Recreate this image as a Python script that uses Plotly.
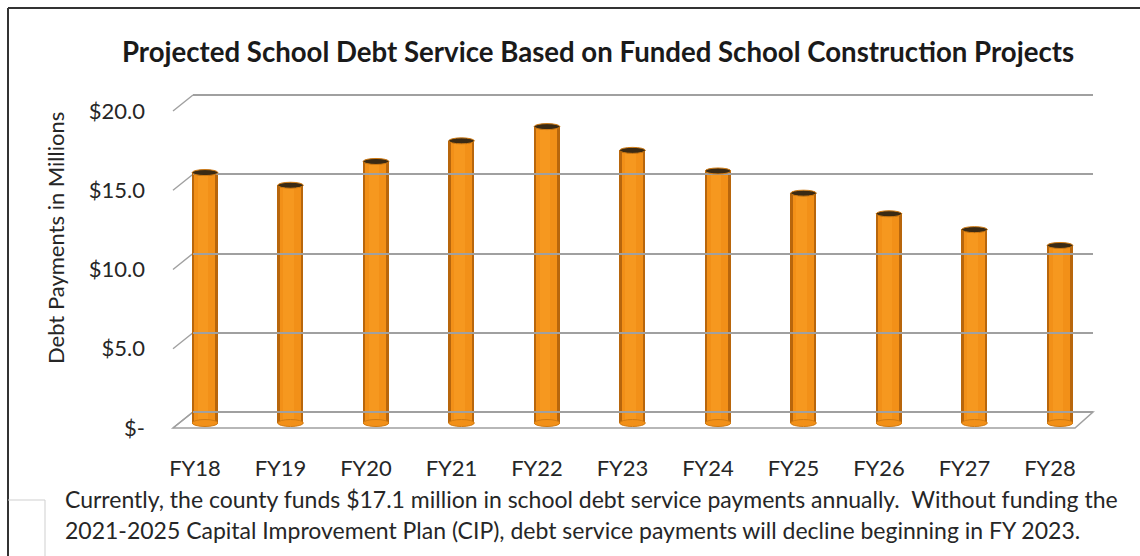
import plotly.graph_objects as go

# ---------------- data ----------------
categories = ["FY18", "FY19", "FY20", "FY21", "FY22", "FY23", "FY24", "FY25", "FY26", "FY27", "FY28"]
debt_millions = [15.8, 15.0, 16.5, 17.8, 18.7, 17.2, 15.9, 14.5, 13.2, 12.2, 11.2]
tick_values = [0, 5, 10, 15, 20]
tick_labels = ["$-", "$5.0", "$10.0", "$15.0", "$20.0"]
title_text = "Projected School Debt Service Based on Funded School Construction Projects"
y_title = "Debt Payments in Millions"
note_lines = [
    "Currently, the county funds $17.1 million in school debt service payments annually.  Without funding the",
    "2021-2025 Capital Improvement Plan (CIP), debt service payments will decline beginning in FY 2023.",
]

# ---------------- geometry (pixels) ----------------
W, H = 1140, 556
FONT = "Lato"
TXT = "#262626"
GRID = "#a0a0a0"
PPU = 15.85            # pixels per million
Y_LO, Y_HI = -1.0, 22.0

def px(x):
    return x / W

def py(y):
    return (H - y) / H

def ydomain(base_px):
    return [py(base_px - Y_LO * PPU), py(base_px - Y_HI * PPU)]

n = len(categories)
idx = list(range(n))
step = 85.5
first_center = 205
bar_left = first_center - step / 2
bar_right = bar_left + step * n
bar_base = 423          # mid-depth floor
back_base = 412         # back wall floor
front_base = 428        # front floor edge
back_left, back_right = 193, 1093
front_left, front_right = 173, 1075

fig = go.Figure()

# cylinder-like bars built from overlaid bars of decreasing width
fig.add_trace(go.Bar(x=idx, y=debt_millions, width=0.30, marker=dict(color="#b8660c", line=dict(width=0)),
                     hoverinfo="skip", showlegend=False))
fig.add_trace(go.Bar(x=idx, y=debt_millions, width=0.25, marker=dict(color="#f29018", line=dict(width=0)),
                     hoverinfo="skip", showlegend=False))
fig.add_trace(go.Bar(x=idx, y=debt_millions, width=0.12, offset=-0.08,
                     marker=dict(color="#f6981f", line=dict(width=0)),
                     hoverinfo="skip", showlegend=False))

# invisible traces to keep the helper axes alive
fig.add_trace(go.Scatter(x=[0], y=[0], xaxis="x2", yaxis="y2", mode="markers",
                         marker=dict(opacity=0), hoverinfo="skip", showlegend=False))
fig.add_trace(go.Scatter(x=[0], y=[0], xaxis="x2", yaxis="y3", mode="markers",
                         marker=dict(opacity=0), hoverinfo="skip", showlegend=False))

shapes = []
# floor outline
shapes.append(dict(type="path", xref="paper", yref="paper",
                   path=(f"M {px(back_left)} {py(back_base)} L {px(back_right)} {py(back_base)} "
                         f"L {px(front_right)} {py(front_base)} L {px(front_left)} {py(front_base)} Z"),
                   line=dict(color=GRID, width=1.5), fillcolor="rgba(0,0,0,0)", layer="below"))
# diagonal tick connectors from front labels to back wall gridlines
for v in tick_values:
    shapes.append(dict(type="line", xref="paper", x0=px(front_left), x1=px(back_left),
                       yref="y3", ysizemode="pixel", yanchor=v, y0=0, y1=front_base - back_base,
                       line=dict(color=GRID, width=1.5), layer="below"))
# bar bottoms and caps
for i, v in zip(idx, debt_millions):
    shapes.append(dict(type="circle", xref="x", yref="y", xsizemode="pixel", ysizemode="pixel",
                       xanchor=i, yanchor=0, x0=-12.8, x1=12.8, y0=-3.5, y1=3.5,
                       fillcolor="#f29018", line=dict(color="#d07a12", width=1), layer="above"))
for i, v in zip(idx, debt_millions):
    shapes.append(dict(type="circle", xref="x", yref="y", xsizemode="pixel", ysizemode="pixel",
                       xanchor=i, yanchor=v, x0=-12.8, x1=12.8, y0=-3, y1=3,
                       fillcolor="#3a2a14", line=dict(color="#d07a12", width=1), layer="above"))
# page frame lines
shapes.append(dict(type="line", xref="paper", yref="paper", x0=px(8), x1=1, y0=py(8), y1=py(8),
                   line=dict(color="#333333", width=2)))
shapes.append(dict(type="line", xref="paper", yref="paper", x0=px(8), x1=px(8), y0=py(8), y1=0,
                   line=dict(color="#333333", width=2)))
shapes.append(dict(type="path", xref="paper", yref="paper",
                   path=f"M {px(8)} {py(500)} L {px(45)} {py(500)} L {px(45)} 0",
                   line=dict(color="#cfcfcf", width=1)))

annotations = [
    dict(text=y_title, x=px(55), y=py(238), xref="paper", yref="paper", showarrow=False,
         textangle=-90, font=dict(family=FONT, size=22, color=TXT), xanchor="center", yanchor="middle"),
    dict(text=note_lines[0], x=px(63), y=py(499), xref="paper", yref="paper", showarrow=False,
         xanchor="left", yanchor="middle", font=dict(family=FONT, size=23, color=TXT)),
    dict(text=note_lines[1], x=px(63), y=py(530), xref="paper", yref="paper", showarrow=False,
         xanchor="left", yanchor="middle", font=dict(family=FONT, size=23, color=TXT)),
]

fig.update_layout(
    width=W, height=H,
    margin=dict(l=0, r=0, t=0, b=0),
    paper_bgcolor="white", plot_bgcolor="rgba(0,0,0,0)",
    barmode="overlay", bargap=0,
    showlegend=False,
    title=dict(text=f"<b>{title_text}</b>", x=px(598), y=py(52), xanchor="center", yanchor="middle",
               font=dict(family=FONT, size=27.6, color="#1a1a1a")),
    xaxis=dict(domain=[px(bar_left), px(bar_right)], range=[-0.5, n - 0.5],
               tickvals=idx, ticktext=categories, showgrid=False, zeroline=False, showline=False,
               ticks="", ticklabelshift=-10, ticklabelstandoff=int(round(30 - PPU * (-Y_LO))),
               tickfont=dict(family=FONT, size=22, color=TXT), fixedrange=True),
    yaxis=dict(domain=ydomain(bar_base), range=[Y_LO, Y_HI],
               showgrid=False, zeroline=False, showline=False, showticklabels=False, ticks=""),
    xaxis2=dict(domain=[px(back_left), px(back_right)], range=[0, 1], anchor="y2",
                showgrid=False, zeroline=False, showline=False, showticklabels=False, ticks=""),
    yaxis2=dict(domain=ydomain(back_base), range=[Y_LO, Y_HI], anchor="x2",
                tickvals=tick_values, showgrid=True, gridcolor=GRID, gridwidth=1.5,
                zeroline=False, showline=False, showticklabels=False, ticks=""),
    yaxis3=dict(domain=ydomain(front_base), range=[Y_LO, Y_HI], anchor="free",
                position=px(145), side="left", tickvals=tick_values, ticktext=tick_labels,
                showgrid=False, zeroline=False, showline=False, ticks="",
                tickfont=dict(family=FONT, size=22, color=TXT)),
    shapes=shapes,
    annotations=annotations,
)

fig.write_html("out.html")
